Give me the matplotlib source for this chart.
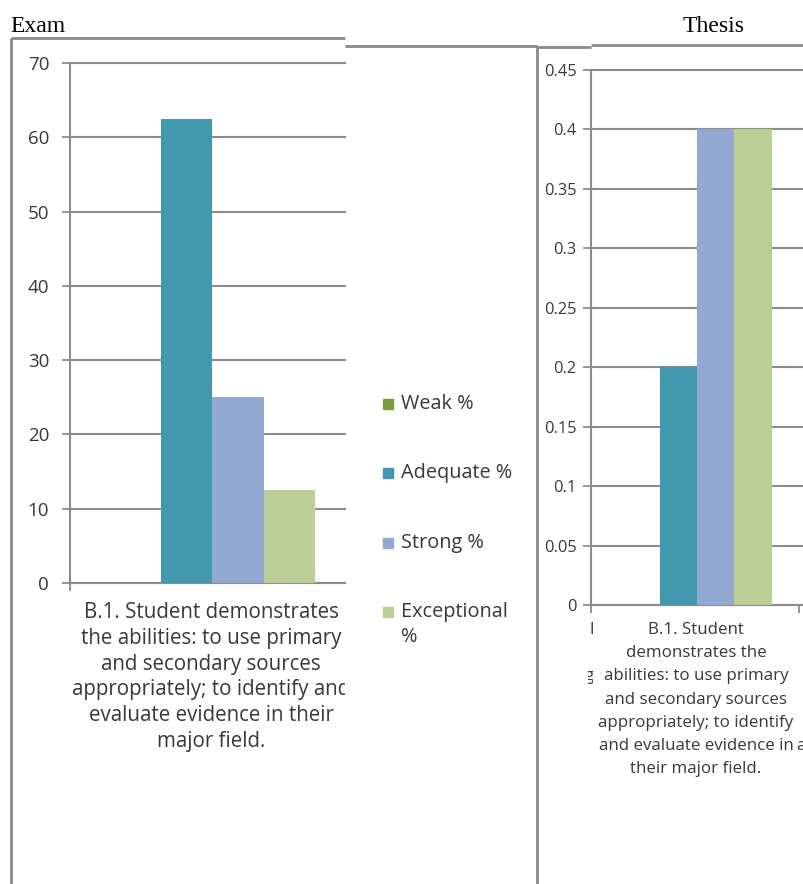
import matplotlib
matplotlib.use('Agg')
import matplotlib.pyplot as plt
from matplotlib.patches import Rectangle
from matplotlib.transforms import Bbox, TransformedBbox

# series shared by both charts
series = ['Weak %', 'Adequate %', 'Strong %', 'Exceptional %']
colors = ['#77A03C', '#4198AF', '#93A9D1', '#B9CF96']

exam_vals = [0, 62.5, 25, 12.5]
exam_ticks = [0, 10, 20, 30, 40, 50, 60, 70]

thesis_vals = [0, 0.2, 0.4, 0.4]
thesis_ticks = [0, 0.05, 0.1, 0.15, 0.2, 0.25, 0.3, 0.35, 0.4, 0.45]
thesis_ticklabels = ['0', '0.05', '0.1', '0.15', '0.2', '0.25', '0.3', '0.35', '0.4', '0.45']

exam_category = ['B.1. Student demonstrates', 'the abilities: to use primary',
                 'and secondary sources', 'appropriately; to identify and',
                 'evaluate evidence in their', 'major field.']
thesis_category = ['B.1. Student', 'demonstrates the', 'abilities: to use primary',
                   'and secondary sources', 'appropriately; to identify',
                   'and evaluate evidence in', 'their major field.']

W, H = 804, 884
GRID = '#8c8c8c'
TXT = '#383838'
FRAME = '#8a8a8a'

plt.rcParams['font.family'] = ['Open Sans', 'DejaVu Sans']

fig = plt.figure(figsize=(W / 100, H / 100), dpi=100)


def frac(x0, y0, x1, y1):
    # pixel box (top-left origin) -> figure fraction rect
    return [x0 / W, 1 - y1 / H, (x1 - x0) / W, (y1 - y0) / H]


def bar_chart(rect, vals, ylim, ticks, ticklabels, cat_px, center_px, tick_px, fs, pad):
    ax = fig.add_axes(frac(*rect))
    w = 1 / 5.5
    for i, (v, c) in enumerate(zip(vals, colors)):
        ax.bar((i - 1.5) * w, v, width=w, color=c, zorder=3)
    # category 0 is centred on center_px
    ax.set_xlim(-(center_px - rect[0]) / cat_px, (rect[2] - center_px) / cat_px)
    ax.set_ylim(*ylim)
    ax.set_yticks(ticks)
    ax.set_yticklabels(ticklabels)
    ax.set_xticks([(p - center_px) / cat_px for p in tick_px])
    ax.set_xticklabels([])
    ax.yaxis.grid(True, color=GRID, lw=1.5)
    for gl in ax.get_ygridlines():
        gl.set_clip_on(False)
    ax.set_axisbelow(True)
    for s in ['top', 'right']:
        ax.spines[s].set_visible(False)
    for s in ['left', 'bottom']:
        ax.spines[s].set_color(GRID)
        ax.spines[s].set_linewidth(1.5)
    ax.tick_params(colors=GRID, width=1.3, length=6, labelcolor=TXT,
                   labelsize=fs, pad=pad)
    ax.patch.set_alpha(0)
    return ax


bar_chart((70, 63, 345, 583), exam_vals, (0, 70), exam_ticks,
          [str(t) for t in exam_ticks], 281, 212.5, [70], 13.5, 9)
bar_chart((591, 70, 804, 605), thesis_vals, (0, 0.45), thesis_ticks,
          thesis_ticklabels, 206, 697, [591, 799], 11.8, 4.5)

# overlay in pixel coordinates for frames, labels and legend
ov = fig.add_axes([0, 0, 1, 1])
ov.set_xlim(0, W)
ov.set_ylim(H, 0)
ov.axis('off')


def clipped_text(x, y, s, x0, x1, **kw):
    t = ov.text(x, y, s, **kw)
    t.set_clip_box(TransformedBbox(Bbox([[x0 / W, 0], [x1 / W, 1]]), fig.transFigure))
    t.set_clip_on(True)
    return t


for k, line in enumerate(exam_category):
    clipped_text(211, 613 + 25.6 * k, line, 11, 345, ha='center', va='center',
                 fontsize=14.8, color=TXT)

for k, line in enumerate(thesis_category):
    clipped_text(696, 630 + 23.2 * k, line, 591, 804, ha='center', va='center',
                 fontsize=12.2, color=TXT)

# bits of the neighbouring category labels
clipped_text(594, 630, 'l', 588, 593, ha='right', va='center', fontsize=12.2, color=TXT)
clipped_text(594, 676, 'g', 588, 593, ha='right', va='center', fontsize=12.2, color=TXT)
ov.text(796, 746, 'a', ha='left', va='center', fontsize=12.2, color=TXT)

# legend
leg_y = [404, 473, 543, 612]
for name, c, y in zip(series, colors, leg_y):
    ov.add_patch(Rectangle((383, y - 5), 10, 10, color=c))
    first = name.replace(' %', '') if name.startswith('Exceptional') else name
    ov.text(401, y, first, ha='left', va='center', fontsize=14.3, color=TXT)
ov.text(401, 637, '%', ha='left', va='center', fontsize=14.3, color=TXT)

# titles
ov.text(10, 32, 'Exam', fontsize=17, family='Liberation Serif', va='baseline')
ov.text(683, 32, 'Thesis', fontsize=17, family='Liberation Serif', va='baseline')

# panel frames
frame = [((11, 345), (38, 38)), ((11, 11), (38, 884)),
         ((345, 537), (46, 46)), ((537, 537), (46, 884)),
         ((537, 591), (47, 47)), ((591, 804), (45, 45))]
for xs, ys in frame:
    ov.plot(xs, ys, color=FRAME, lw=2, solid_capstyle='butt')

fig.savefig('out.png', dpi=100)
